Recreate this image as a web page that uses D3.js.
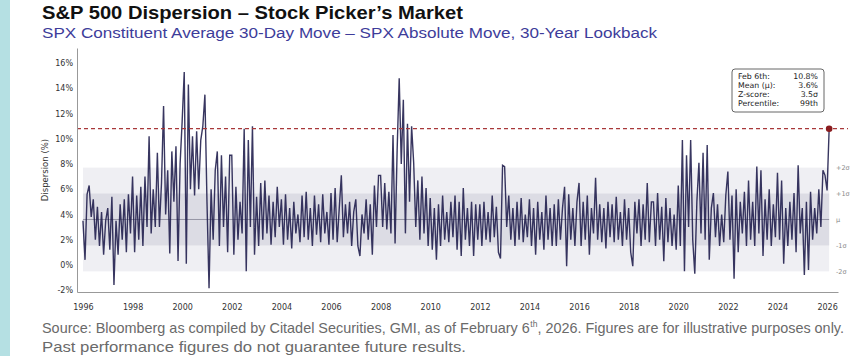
<!DOCTYPE html>
<html>
<head>
<meta charset="utf-8">
<script src="https://cdn.jsdelivr.net/npm/d3@7/dist/d3.min.js"></script>
<style>
  html, body { margin: 0; padding: 0; background: #ffffff; }
  svg { display: block; }
</style>
</head>
<body>
<script>
// ---------------- DATA ----------------
const startYear = 1996;          // first observation (Jan 1996), monthly steps
const dispersion = [
  // 1996
  3.5, 0.4, 5.6, 6.3, 3.8, 5.2, 2.0, 4.6, 1.5, 4.2, 0.8, 3.5,
  // 1997
  4.5, 1.2, 5.4, -1.6, 3.5, 0.8, 4.8, 2.0, 5.2, 1.0, 5.6, 2.5,
  // 1998
  7.0, 1.0, 5.5, 2.0, 6.2, 1.5, 7.0, 3.0, 10.2, 2.5, 6.0, 3.0,
  // 1999
  8.9, 3.0, 6.5, 12.6, 4.0, 7.5, 0.9, 9.0, 5.0, 9.4, 0.3, 8.0,
  // 2000
  11.4, 15.3, 0.1, 14.3, 6.0, 10.2, 5.5, 10.6, 6.0, 9.9, 11.0, 13.5,
  // 2001
  5.0, -1.85, 6.0, 2.0, 7.5, 9.0, 1.5, 8.7, 3.0, 7.0, 1.0, 8.7,
  // 2002
  8.7, 0.8, 6.2, 2.0, 5.0, 2.5, 10.8, -0.5, 9.9, 3.0, 11.0, 0.8,
  // 2003
  5.4, 1.5, 6.5, 2.0, 6.7, 2.5, 5.5, 1.6, 5.0, 2.2, 6.2, 3.0,
  // 2004
  5.2, 1.6, 5.6, 2.0, 4.5, 1.3, 5.0, 2.5, 4.0, 1.8, 5.5, 2.2,
  // 2005
  5.8, 2.0, 4.5, 1.5, 5.5, 2.4, 4.8, 1.8, 5.6, 2.5, 4.2, 1.6,
  // 2006
  5.7, 2.0, 6.1, 1.8, 4.5, 7.1, 2.2, 4.8, 2.5, 5.0, 1.5, 4.2,
  // 2007
  5.2, 1.5, 0.7, 4.0, 2.5, 5.2, 2.0, 4.8, 0.8, 6.3, 3.0, 7.1,
  // 2008
  7.1, 3.0, 6.5, 2.8, 5.8, 2.5, 10.3, 1.7, 9.1, 14.8, 8.0, 13.1,
  // 2009
  2.5, 11.2, 5.0, 11.0, 8.1, 3.0, 6.7, 2.0, 7.0, 2.5, 6.1, 1.5,
  // 2010
  5.3, 1.2, 4.5, 0.4, 4.8, 1.5, 5.5, 2.0, 4.2, 1.8, 5.0, 2.2,
  // 2011
  5.5, 1.2, 5.0, 0.7, 6.1, 2.0, 4.5, 1.5, 5.0, 0.7, 4.8, 2.0,
  // 2012
  4.8, 1.5, 5.0, 2.0, 4.2, 1.8, 5.5, 2.2, 4.6, 1.0, 0.5, 7.9,
  // 2013
  7.8, 3.0, 5.5, 2.0, 4.5, 1.5, 5.0, 2.0, 5.3, 1.8, 4.0, 2.2,
  // 2014
  5.2, 1.5, 4.5, 0.8, 5.0, 2.0, 4.2, 1.2, 5.5, 2.0, 4.5, 1.5,
  // 2015
  4.8, 1.5, 5.2, 2.0, 4.5, 6.2, -0.1, 5.6, 2.0, 4.5, 1.5, 5.0,
  // 2016
  6.5, 1.5, 5.0, 2.0, 5.5, 0.8, 4.5, 2.5, 6.9, 2.0, 4.8, 1.8,
  // 2017
  4.5, 1.3, 5.0, 2.2, 4.8, 1.8, 5.4, 2.0, 4.2, 1.5, 5.2, 2.0,
  // 2018
  4.5, 1.0, -0.1, 5.0, 2.5, 5.2, 1.5, 4.8, 2.0, 6.5, 1.8, 5.0,
  // 2019
  5.0, 1.5, 5.7, 2.0, 4.6, 0.3, 5.3, 1.8, 4.5, 1.5, 4.0, 1.2,
  // 2020
  6.3, 1.5, 9.9, -0.5, 8.7, 3.0, 9.9, 2.0, -0.7, 5.0, 8.1, 2.5,
  // 2021
  8.9, 2.0, 9.5, 0.4, 4.5, 5.7, 2.2, 4.8, 1.5, 4.0, 1.8, 5.5,
  // 2022
  7.4, 2.0, 5.5, -1.1, 6.0, 1.0, 5.0, 2.5, 5.8, 1.5, 6.7, 2.0,
  // 2023
  5.0, 1.5, 7.8, 2.5, 7.5, 0.7, 5.2, 2.0, 6.0, 1.5, 4.8, 2.2,
  // 2024
  7.3, 2.0, 6.7, 0.1, 4.5, 1.5, 5.0, 2.0, 5.7, 1.0, 7.9, 2.5,
  // 2025
  4.5, -0.8, 5.0, -0.4, 5.8, 2.0, 4.5, 2.5, 6.0, 3.0, 7.5, 7.1,
  // 2026
  5.9, 10.8
];
const xTickYears = [1996, 1998, 2000, 2002, 2004, 2006, 2008, 2010, 2012, 2014, 2016, 2018, 2020, 2022, 2024, 2026];
const yTickValues = [-2, 0, 2, 4, 6, 8, 10, 12, 14, 16];
const latestValue = 10.8;
const meanValue = 3.6;
const zScore = 3.5;
const sigmaLabels = ["+2σ", "+1σ", "μ", "-1σ", "-2σ"];
const sigmaMultiples = [2, 1, 0, -1, -2];
const statLabels = ["Feb 6th:", "Mean (μ):", "Z-score:", "Percentile:"];
const statValues = ["10.8%", "3.6%", "3.5σ", "99th"];
const footerParts = ["Source: Bloomberg as compiled by Citadel Securities, GMI, as of February 6", "th", ", 2026. Figures are for illustrative purposes only."];
const footerLine2 = "Past performance figures do not guarantee future results.";

// ---------------- LAYOUT ----------------
const W = 854, H = 356;
const sigma = (latestValue - meanValue) / zScore;
const series = dispersion.map((v, i) => ({ t: startYear + i / 12, v }));

const svg = d3.select("body").append("svg").attr("width", W).attr("height", H);

// left accent bar
svg.append("rect").attr("x", 0).attr("y", 0).attr("width", 10).attr("height", H).attr("fill", "#b5e0e3");

// titles
svg.append("text").attr("x", 42).attr("y", 19)
  .attr("font-family", "Liberation Sans, Arial, sans-serif").attr("font-weight", "bold")
  .attr("font-size", 19).attr("fill", "#111")
  .attr("textLength", 421).attr("lengthAdjust", "spacingAndGlyphs")
  .text("S&P 500 Dispersion – Stock Picker’s Market");
svg.append("text").attr("x", 42).attr("y", 38)
  .attr("font-family", "Liberation Sans, Arial, sans-serif")
  .attr("font-size", 15.5).attr("fill", "#3d3c9a")
  .attr("textLength", 615).attr("lengthAdjust", "spacingAndGlyphs")
  .text("SPX Constituent Average 30-Day Move – SPX Absolute Move, 30-Year Lookback");

// scales
const x = d3.scaleLinear().domain([1995.76, 2026.44]).range([77, 838]);
const y = d3.scaleLinear().domain([-2.15, 17.2]).range([292, 48]);

const tStart = series[0].t, tEnd = series[series.length - 1].t;

// sigma bands
const g = svg.append("g");
g.append("rect")
  .attr("x", x(tStart)).attr("width", x(tEnd) - x(tStart))
  .attr("y", y(meanValue + 2 * sigma)).attr("height", y(meanValue - 2 * sigma) - y(meanValue + 2 * sigma))
  .attr("fill", "#efeff3");
g.append("rect")
  .attr("x", x(tStart)).attr("width", x(tEnd) - x(tStart))
  .attr("y", y(meanValue + sigma)).attr("height", y(meanValue - sigma) - y(meanValue + sigma))
  .attr("fill", "#dcdce4");
g.append("line")
  .attr("x1", x(tStart)).attr("x2", x(tEnd))
  .attr("y1", y(meanValue)).attr("y2", y(meanValue))
  .attr("stroke", "#66667a").attr("stroke-width", 0.6);

// series line
const line = d3.line().x(d => x(d.t)).y(d => y(d.v));
g.append("path").datum(series)
  .attr("d", line).attr("fill", "none")
  .attr("stroke", "#1d1a4a").attr("stroke-opacity", 0.88)
  .attr("stroke-width", 1.4).attr("stroke-linejoin", "miter");

// latest value reference line and dot
g.append("line")
  .attr("x1", x.range()[0]).attr("x2", 848)
  .attr("y1", y(latestValue)).attr("y2", y(latestValue))
  .attr("stroke", "#a8383a").attr("stroke-width", 1.3).attr("stroke-dasharray", "4,3");
g.append("circle")
  .attr("cx", x(tEnd)).attr("cy", y(latestValue)).attr("r", 3.3)
  .attr("fill", "#8a1c1f");

// sigma labels
sigmaLabels.forEach((lab, i) => {
  g.append("text").attr("x", 836).attr("y", y(meanValue + sigmaMultiples[i] * sigma) + 2.5)
    .attr("font-family", "DejaVu Sans, sans-serif").attr("font-size", 6.5).attr("fill", "#888")
    .text(lab);
});

// axes
const fontAxis = "DejaVu Sans, sans-serif";
const yAxis = d3.axisLeft(y).tickValues(yTickValues).tickSize(0).tickPadding(4).tickFormat(d => d + "%");
const yG = svg.append("g").attr("transform", `translate(${x.range()[0]},0)`).call(yAxis);
yG.select(".domain").attr("stroke", "#999");
yG.selectAll("text").attr("font-family", fontAxis).attr("font-size", 8).attr("fill", "#333");

const xAxis = d3.axisBottom(x).tickValues(xTickYears).tickSize(0).tickPadding(12).tickFormat(d3.format("d"));
const xG = svg.append("g").attr("transform", `translate(0,${y.range()[0]})`).call(xAxis);
xG.select(".domain").attr("stroke", "#999");
xG.selectAll("text").attr("font-family", fontAxis).attr("font-size", 8).attr("fill", "#333");

svg.append("text")
  .attr("transform", `translate(48,${(y.range()[0] + y.range()[1]) / 2}) rotate(-90)`)
  .attr("text-anchor", "middle")
  .attr("font-family", fontAxis).attr("font-size", 8.5).attr("fill", "#333")
  .text("Dispersion (%)");

// stats box
const bx = 732, by = 69, bw = 92, bh = 43;
svg.append("rect").attr("x", bx).attr("y", by).attr("width", bw).attr("height", bh)
  .attr("rx", 3).attr("fill", "#fff").attr("stroke", "#666").attr("stroke-width", 1);
statLabels.forEach((lab, i) => {
  svg.append("text").attr("x", bx + 6).attr("y", by + 10 + i * 9)
    .attr("font-family", fontAxis).attr("font-size", 7.8).attr("fill", "#222").text(lab);
  svg.append("text").attr("x", bx + bw - 6).attr("y", by + 10 + i * 9)
    .attr("text-anchor", "end")
    .attr("font-family", fontAxis).attr("font-size", 7.8).attr("fill", "#222").text(statValues[i]);
});

// footer: pieces measured then laid out with one common scale factor
const foot = "Liberation Sans Narrow, Arial Narrow, Liberation Sans, sans-serif";
const footColor = "#6a6a6a";
const footSizes = [14.3, 8.5, 14.3];
const footDy = [0, -6, 0];
const pieces = footerParts.map((t, i) => svg.append("text")
  .attr("y", 333 + footDy[i])
  .attr("font-family", foot).attr("font-size", footSizes[i]).attr("fill", footColor)
  .text(t));
const widths = pieces.map(p => p.node().getComputedTextLength());
const total = d3.sum(widths) + 0.5;
const factor = 802 / total;
let cx = 42;
pieces.forEach((p, i) => {
  const w = widths[i] * factor;
  p.attr("x", cx).attr("textLength", w).attr("lengthAdjust", "spacingAndGlyphs");
  cx += w + (i === 0 ? 0.5 : 0);
});
svg.append("text").attr("x", 42).attr("y", 352)
  .attr("font-family", foot).attr("font-size", 14.3).attr("fill", footColor)
  .attr("textLength", 424).attr("lengthAdjust", "spacingAndGlyphs")
  .text(footerLine2);
</script>
</body>
</html>
